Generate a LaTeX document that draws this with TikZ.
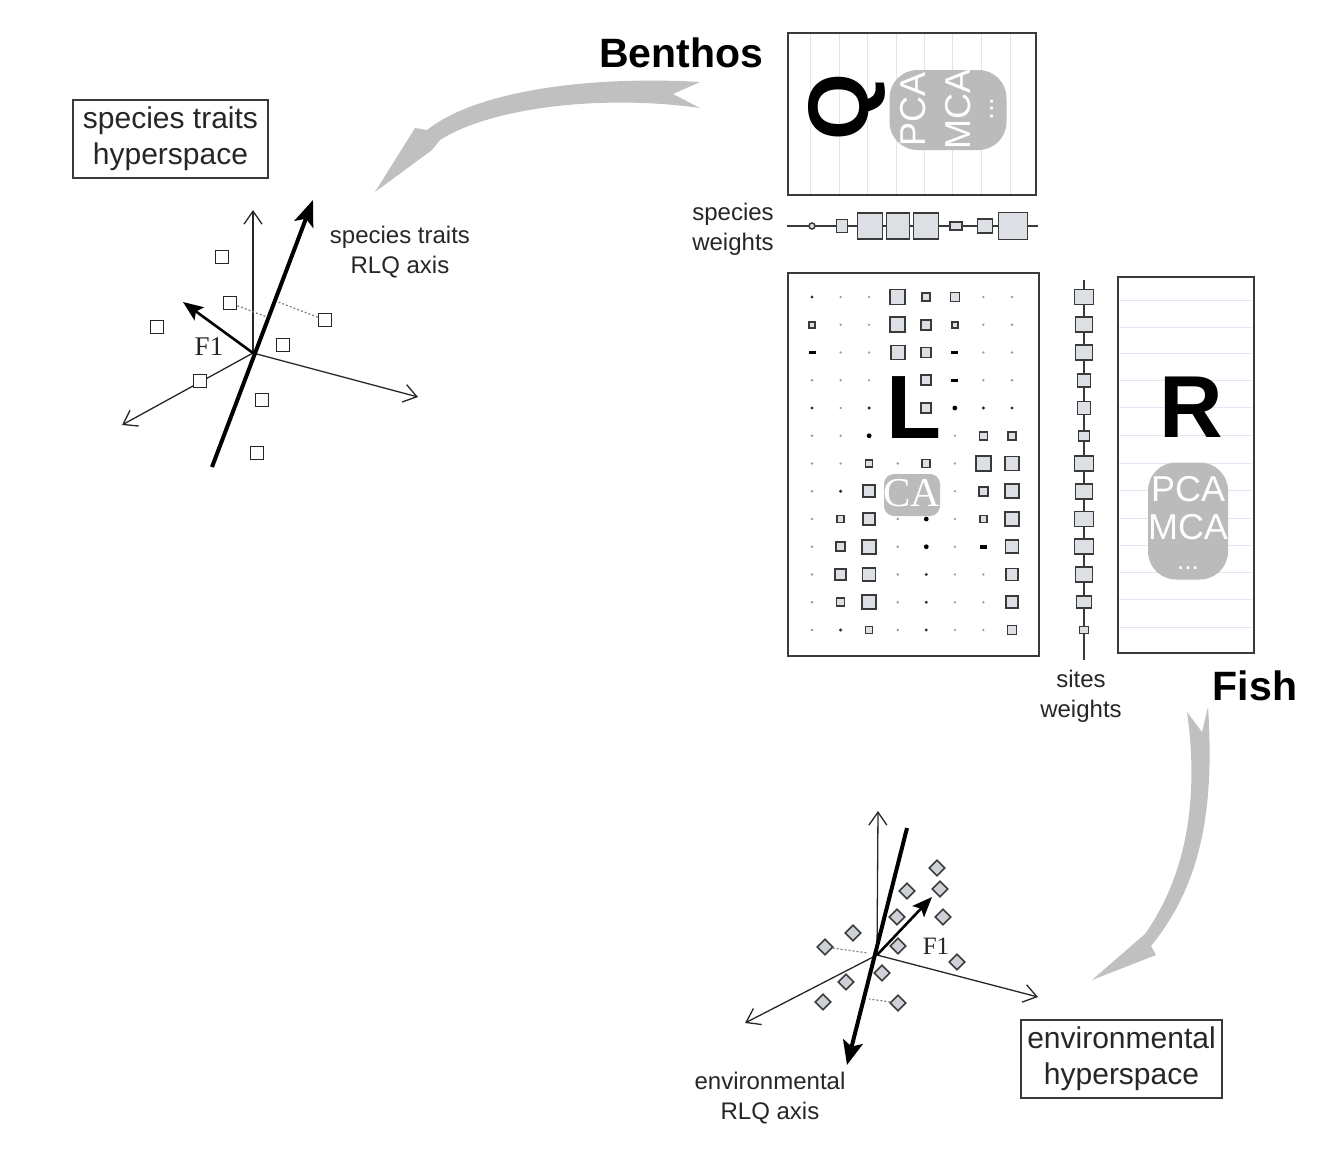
\documentclass[tikz,border=0pt]{standalone}
\usepackage{fontspec}
\setmainfont{Liberation Sans}
\newfontfamily\seriffam{Liberation Serif}
\usetikzlibrary{arrows.meta,shapes.geometric}

\definecolor{ink}{HTML}{262626}
\definecolor{frame}{HTML}{3A3A3A}
\definecolor{cellfill}{HTML}{DCDFE3}
\definecolor{bubble}{HTML}{BBBBBB}
\definecolor{arrowgrey}{HTML}{C0C0C0}
\definecolor{gridQ}{HTML}{E0E6F0}
\definecolor{gridR}{HTML}{E4E4F4}
\definecolor{diamfill}{HTML}{CDD1D6}

\newcommand{\methoddots}{{\fontsize{28}{28}\selectfont ...}}
\newcommand{\methoddotssmall}{{\fontsize{26}{26}\selectfont ...}}

\begin{document}
\begin{tikzpicture}[x=1pt,y=-1pt,
  tablebox/.style={draw=frame, line width=1.8pt, inner sep=0pt, anchor=north west},
  wsq/.style={draw=frame, fill=cellfill, line width=1.7pt, inner sep=0pt},
  tinydot/.style={circle, fill=gray!80, inner sep=0pt, minimum size=2.6pt},
  smalldot/.style={circle, fill=black!80, inner sep=0pt, minimum size=3.4pt},
  blackdot/.style={circle, fill=black, inner sep=0pt, minimum size=4.8pt},
  dashmark/.style={rectangle, fill=black, inner sep=0pt, minimum width=7pt, minimum height=3.5pt},
  smalllabel/.style={font=\fontsize{24}{30}\selectfont, text=ink, align=center, inner sep=0pt},
  spacebox/.style={draw=frame, line width=1.6pt, font=\fontsize{30}{36}\selectfont, text=ink,
    align=center, inner sep=0pt, minimum height=78pt},
  heading/.style={font=\fontsize{41}{41}\selectfont\bfseries, text=black, inner sep=0pt},
  bigletter/.style={font=\fontsize{88}{88}\selectfont\bfseries, text=black, inner sep=0pt},
  methodbubble/.style={fill=bubble, rounded corners=28pt, inner sep=0pt},
  methodtext/.style={text=white, align=center, inner sep=0pt, anchor=north},
  thinaxis/.style={draw=ink, line width=1.3pt, -{Straight Barb[length=13pt,width=18pt]}},
  rlqaxis/.style={draw=black, line width=4pt, -{Stealth[length=26pt,width=20pt,inset=6pt]}},
  fonearrow/.style={draw=black, line width=2.6pt, -{Stealth[length=20pt,width=16pt,inset=4pt]}},
  projline/.style={draw=gray, line width=1.2pt, dash pattern=on 2pt off 2pt},
  plotsq/.style={draw=ink, fill=white, line width=1.6pt, inner sep=0pt, minimum size=13pt},
  plotdiam/.style={diamond, draw=ink!90, fill=diamfill, line width=1.6pt, inner sep=0pt, minimum size=16pt},
  fonelabel/.style={font=\seriffam\fontsize{27}{27}\selectfont, text=ink, inner sep=0pt}
]
\useasboundingbox (0,0) rectangle (1342,1167);

% ---------- headings ----------
\node[heading] (benthos) at (681,53) {Benthos};
\node[heading] (fish) at (1255,686) {Fish};

% ---------- Q table (species x traits) ----------
\foreach \gx in {810,839,867,896,924,952,981,1010}
  \draw[gridQ, line width=1pt] (\gx,33) -- (\gx,197);
\node[tablebox, minimum width=248pt, minimum height=162pt] (Q) at (787,32) {};
\node[bigletter, font=\fontsize{86}{86}\selectfont\bfseries, rotate=90] (Qletter) at (847,107) {Q};
\node[methodbubble, minimum width=117pt, minimum height=80pt] (Qmethods) at (948,110) {};
\node[methodtext, rotate=90, font=\fontsize{36}{45}\selectfont] (Qtext) at (900,109)
  {PCA\\MCA\\[-22pt]\methoddots};

% ---------- species weights ----------
\coordinate (swL) at (787,226);
\coordinate (swR) at (1038,226);
\draw[frame, line width=1.4pt] (swL) -- (swR);
\node[circle, draw=frame, fill=cellfill, line width=1.5pt, inner sep=0pt, minimum size=6pt] (sw1) at (812,226) {};
\foreach \sx/\w/\h [count=\k from 2] in {842/11/13, 870/25/26, 898/23/26, 926/25/26, 956/12/8, 985/15/14, 1013/29/27}
  \node[wsq, minimum width=\w pt, minimum height=\h pt] (sw\k) at (\sx,226) {};
\node[smalllabel] (swlab) at (733,229) {species\\weights};

% ---------- L table (sites x species) ----------
\node[tablebox, minimum width=251pt, minimum height=383pt] (Ltab) at (787,272) {};
\foreach \rowvals [count=\r] in {
  {3,0,0,15,8,9,0,0},
  {6,0,0,15,10,6,0,0},
  {2,0,0,14,10,2,0,0},
  {0,0,0,-1,10,2,0,0},
  {3,0,3,-1,10,1,3,3},
  {0,0,1,-1,-1,0,8,8},
  {0,0,7,0,8,0,15,14},
  {0,3,12,-1,-1,0,9,14},
  {0,7,12,0,1,0,7,14},
  {0,9,14,0,1,0,2,13},
  {0,11,13,0,3,0,0,12},
  {0,8,14,0,3,0,0,12},
  {0,3,7,0,3,0,0,9}}{
  \foreach \v [count=\c] in \rowvals {
    \pgfmathsetmacro\cx{812+(\c-1)*28.57}
    \pgfmathsetmacro\cy{297+(\r-1)*27.75}
    \ifnum\v=0 \node[tinydot] (L-\r-\c) at (\cx,\cy) {};\fi
    \ifnum\v=1 \node[blackdot] (L-\r-\c) at (\cx,\cy) {};\fi
    \ifnum\v=2 \node[dashmark] (L-\r-\c) at (\cx,\cy) {};\fi
    \ifnum\v=3 \node[smalldot] (L-\r-\c) at (\cx,\cy) {};\fi
    \ifnum\v>3 \node[wsq, minimum size=\v pt] (L-\r-\c) at (\cx,\cy) {};\fi
  }
}
\node[bigletter, font=\fontsize{90}{90}\selectfont\bfseries] (Lletter) at (914,408) {L};
\node[fill=bubble, rounded corners=10pt, inner sep=0pt, minimum width=56pt,
  minimum height=42pt] (CAbox) at (912,495) {};
\node[text=white, inner sep=0pt, font=\seriffam\fontsize{41}{41}\selectfont] (CA) at (912,493) {CA};

% ---------- sites weights ----------
\coordinate (stT) at (1084,280);
\coordinate (stB) at (1084,660);
\draw[frame, line width=1.4pt] (stT) -- (stB);
\foreach \w/\h [count=\r] in {19/15,17/15,17/15,13/13,13/13,11/10,19/15,17/15,19/15,19/15,17/15,15/12,9/7}{
  \pgfmathsetmacro\cy{297+(\r-1)*27.75}
  \node[wsq, minimum width=\w pt, minimum height=\h pt] (st\r) at (1084,\cy) {};
}
\node[smalllabel] (stlab) at (1081,696) {sites\\weights};

% ---------- R table (sites x environment) ----------
\foreach \gy in {300,327,353,380,407,435,463,490,518,545,572,599,627}
  \draw[gridR, line width=1pt] (1118,\gy) -- (1252,\gy);
\node[tablebox, minimum width=136pt, minimum height=376pt] (R) at (1117,276) {};
\node[bigletter] (Rletter) at (1191,407) {R};
\node[methodbubble, minimum width=80pt, minimum height=117pt] (Rmethods) at (1188,521) {};
\node[methodtext, font=\fontsize{36}{38}\selectfont] (Rtext) at (1188,476)
  {PCA\\MCA\\[-8pt]\methoddotssmall};

% ---------- curved grey arrows ----------
\fill[arrowgrey] (700,82) .. controls (600,76) and (480,88) .. (427,130) -- (415,128) -- (375,192)
  -- (432,150) -- (440,140) .. controls (490,108) and (600,94) .. (700,108) -- (673,94) -- cycle;
\fill[arrowgrey] (1187,712) -- (1202,732) -- (1208,707) .. controls (1214,800) and (1205,880) .. (1151,946)
  -- (1156,955) -- (1092,980) -- (1138,940) -- (1145,934) .. controls (1190,870) and (1198,790) .. (1187,712) -- cycle;

% ---------- species traits hyperspace ----------
\node[spacebox, minimum width=195pt] (traitspace) at (170.5,139) {species traits\\hyperspace};
\coordinate (o1) at (253,353);
\coordinate (o1n) at (253,210);
\coordinate (o1e) at (418,397);
\coordinate (o1w) at (122,425);
\coordinate (rlq1s) at (212,467);
\coordinate (rlq1e) at (313,200);
\coordinate (f1tip) at (183,302);
\coordinate (foot1) at (267,317);
\coordinate (foot2) at (273,300);
\draw[thinaxis] (o1) -- (o1n);
\draw[thinaxis] (o1) -- (o1e);
\draw[thinaxis] (o1) -- (o1w);
\foreach \px/\py [count=\k] in {222/257, 230/303, 157/327, 325/320, 283/345, 200/381, 262/400, 257/453}
  \node[plotsq] (ts\k) at (\px,\py) {};
\draw[projline] (ts2) -- (foot1);
\draw[projline] (ts4) -- (foot2);
\draw[rlqaxis] (rlq1s) -- (rlq1e);
\draw[fonearrow] (o1) -- (f1tip);
\node[fonelabel] (F1a) at (209,347) {F1};
\node[smalllabel] (rlq1lab) at (400,252) {species traits\\RLQ axis};

% ---------- environmental hyperspace ----------
\node[spacebox, minimum width=201pt] (envspace) at (1121.5,1059) {environmental\\hyperspace};
\coordinate (o2) at (877,955);
\coordinate (o2n) at (878,811);
\coordinate (o2e) at (1038,997);
\coordinate (o2w) at (745,1023);
\coordinate (rlq2s) at (907,828);
\coordinate (rlq2e) at (847,1065);
\coordinate (f2tip) at (932,897);
\coordinate (foot3) at (868,953);
\coordinate (foot4) at (869,999);
\draw[thinaxis] (o2) -- (o2n);
\draw[thinaxis] (o2) -- (o2e);
\draw[thinaxis] (o2) -- (o2w);
\foreach \px/\py [count=\k] in {937/868, 940/889, 907/891, 897/917, 943/917, 853/933, 898/946,
    825/947, 957/962, 882/973, 846/982, 823/1002, 898/1003}
  \node[plotdiam] (es\k) at (\px,\py) {};
\draw[projline] (es8) -- (foot3);
\draw[projline] (es13) -- (foot4);
\draw[rlqaxis, -{Stealth[length=24pt,width=20pt,inset=5pt]}] (rlq2s) -- (rlq2e);
\draw[fonearrow] (o2) -- (f2tip);
\node[fonelabel, font=\seriffam\fontsize{25}{25}\selectfont] (F1b) at (936,946) {F1};
\node[smalllabel] (rlq2lab) at (770,1098) {environmental\\RLQ axis};

\end{tikzpicture}
\end{document}
